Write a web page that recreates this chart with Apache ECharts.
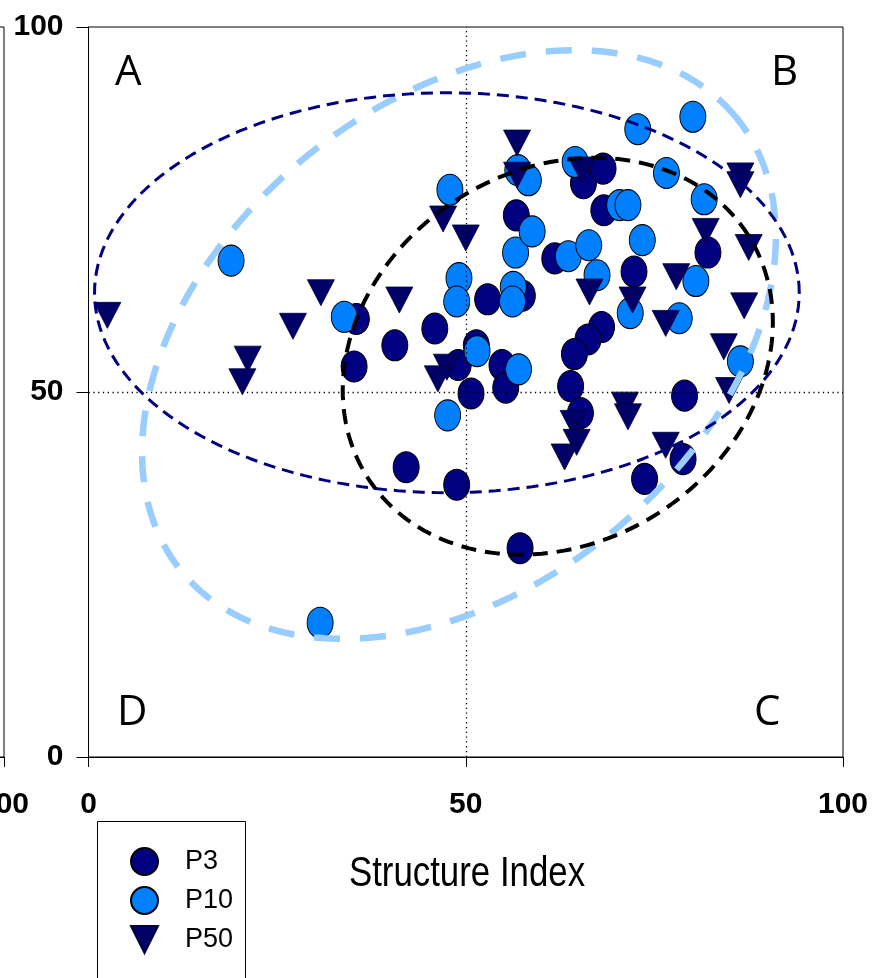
<!DOCTYPE html>
<html>
<head>
<meta charset="utf-8">
<script src="https://cdn.jsdelivr.net/npm/echarts@6/dist/echarts.min.js"></script>
<style>
html,body{margin:0;padding:0;background:#fff;}
#chart{width:876px;height:978px;}
</style>
</head>
<body>
<div id="chart"></div>
<script>
// ---- data ----
const xTicks = [0, 50, 100];
const yTicks = [0, 50, 100];
const seriesNames = ['P3', 'P10', 'P50'];
const quadrantLabels = ['A', 'B', 'C', 'D'];
const xAxisTitle = 'Structure Index';

const p3 = [
  [35.5, 60.0], [35.2, 53.5], [40.6, 56.4], [45.9, 58.7], [42.1, 39.7],
  [48.8, 37.3], [49.0, 53.7], [50.7, 49.8], [51.4, 56.4], [52.9, 62.7],
  [57.5, 63.2], [56.7, 74.2], [54.8, 53.7], [55.3, 50.6], [57.2, 28.6],
  [61.8, 68.3], [65.6, 78.6], [68.2, 80.6], [68.3, 74.9], [72.3, 66.5],
  [68.0, 58.9], [66.2, 57.2], [64.4, 55.2], [63.9, 50.8], [65.2, 47.1],
  [73.7, 38.1], [78.8, 40.8], [79.0, 49.5], [82.1, 69.1]
];
const p10 = [
  [18.9, 68.0], [33.9, 60.3], [30.7, 18.4], [47.9, 77.7], [49.1, 65.6],
  [48.8, 62.4], [51.5, 55.6], [47.6, 46.8], [57.0, 53.1], [56.3, 64.4],
  [56.2, 62.4], [56.6, 69.1], [58.8, 72.0], [56.9, 80.4], [58.3, 79.0],
  [64.5, 81.5], [63.6, 68.6], [66.3, 70.1], [67.4, 66.0], [70.4, 75.6],
  [71.5, 75.6], [73.4, 70.8], [71.8, 60.8], [72.8, 86.0], [80.1, 87.7],
  [76.6, 80.0], [81.6, 76.4], [80.5, 65.2], [78.3, 60.1], [86.4, 54.2]
];
const p50 = [
  [2.5, 60.5], [30.8, 63.6], [27.1, 59.0], [21.1, 54.5], [20.4, 51.4],
  [41.2, 62.6], [47.0, 73.7], [50.0, 71.1], [47.5, 53.4], [46.3, 51.8],
  [56.8, 84.1], [56.8, 79.7], [65.4, 80.4], [66.4, 63.7], [72.1, 62.6],
  [64.3, 45.7], [64.7, 43.1], [63.1, 41.1], [71.1, 48.2], [71.5, 46.6],
  [76.5, 42.7], [77.9, 65.8], [76.5, 59.4], [81.8, 72.0], [86.4, 79.6],
  [86.4, 78.4], [87.5, 69.8], [86.9, 61.8], [84.2, 56.2], [84.9, 50.2]
];

// confidence ellipses: centre (data), semi-axes (x-axis units), on-screen rotation (deg)
const ellipseCx = [49.1, 47.5, 62.2];
const ellipseCy = [56.5, 63.6, 54.9];
const ellipseA = [47.5, 46.7, 29.9];
const ellipseB = [32.1, 26.5, 24.7];
const ellipseAngle = [39.3, 0, 32.4];

// ---- build ----
const ellipseStyle = [
  {color: '#99CCFF', width: 6.5, type: [26, 20]},
  {color: '#000080', width: 3, type: [12, 7]},
  {color: '#000000', width: 4, type: [15, 9]}
];
const ovalPath = 'path://M50,0 A50,50 0 1,1 50,100 A50,50 0 1,1 50,0 Z';
const triPath = 'path://M0,0 L100,0 L50,100 Z';
const axisLabelStyle = {color: '#000', fontSize: 30, fontWeight: 'bold', fontFamily: 'Liberation Sans, Arial, sans-serif'};

const chart = echarts.init(document.getElementById('chart'), null, {renderer: 'canvas'});

function ellipsePoints(i, ratio) {
  const pts = [];
  const th = ellipseAngle[i] * Math.PI / 180;
  for (let d = 0; d <= 360; d += 2) {
    const t = d * Math.PI / 180;
    const u = ellipseA[i] * Math.cos(t), v = ellipseB[i] * Math.sin(t);
    pts.push([ellipseCx[i] + u * Math.cos(th) - v * Math.sin(th),
              ellipseCy[i] + (u * Math.sin(th) + v * Math.cos(th)) * ratio]);
  }
  return pts;
}

const series = [
  {
    type: 'line', name: 'ref', xAxisIndex: 0, yAxisIndex: 0, data: [], z: 1, silent: true,
    markLine: {
      silent: true, symbol: 'none', label: {show: false},
      lineStyle: {color: '#000', width: 1.3, type: [1.3, 3.5]},
      data: [{xAxis: 50}, {yAxis: 50}]
    }
  },
  {
    type: 'scatter', name: seriesNames[0], data: p3, symbol: ovalPath, symbolSize: [26, 31], z: 2,
    itemStyle: {color: '#000080', borderColor: '#000', borderWidth: 1, opacity: 1}
  },
  {
    type: 'scatter', name: seriesNames[1], data: p10, symbol: ovalPath, symbolSize: [26, 31], z: 3,
    itemStyle: {color: '#0080FF', borderColor: '#000', borderWidth: 1, opacity: 1}
  },
  {
    type: 'scatter', name: seriesNames[2], data: p50, symbol: triPath, symbolSize: [27, 26], z: 4,
    itemStyle: {color: '#000066', borderColor: '#00003a', borderWidth: 0.8, opacity: 1}
  }
];
for (let i = 0; i < 3; i++) {
  series.push({
    type: 'line', name: 'ellipse' + i, data: [], showSymbol: false, symbol: 'none',
    smooth: false, z: 5 + i, silent: true, lineStyle: ellipseStyle[i]
  });
}

const xAxisCommon = {
  type: 'value', min: xTicks[0], max: xTicks[2], interval: xTicks[1] - xTicks[0],
  axisLine: {show: true, lineStyle: {color: '#000', width: 1}},
  axisTick: {show: true, length: 10, lineStyle: {color: '#000', width: 1}},
  axisLabel: Object.assign({margin: 33}, axisLabelStyle),
  splitLine: {show: false}
};

const option = {
  animation: false,
  backgroundColor: '#ffffff',
  grid: [
    {left: 88.5, right: 33, top: 27, bottom: 221, show: true, borderColor: '#000', borderWidth: 1, outerBoundsMode: 'none', containLabel: false},
    {left: -751, right: 872, top: 27, bottom: 221, show: true, borderColor: '#000', borderWidth: 1, outerBoundsMode: 'none', containLabel: false}
  ],
  xAxis: [
    Object.assign({gridIndex: 0}, xAxisCommon),
    Object.assign({gridIndex: 1}, xAxisCommon)
  ],
  yAxis: [
    {
      gridIndex: 0, type: 'value', min: yTicks[0], max: yTicks[2], interval: yTicks[1] - yTicks[0],
      axisLine: {show: true, lineStyle: {color: '#000', width: 1}},
      axisTick: {show: true, length: 12, lineStyle: {color: '#000', width: 1}},
      axisLabel: Object.assign({margin: 25}, axisLabelStyle),
      splitLine: {show: false}
    },
    {
      gridIndex: 1, type: 'value', min: yTicks[0], max: yTicks[2], interval: yTicks[1] - yTicks[0],
      axisLine: {show: false}, axisTick: {show: false}, axisLabel: {show: false}, splitLine: {show: false}
    }
  ],
  legend: {
    data: seriesNames, orient: 'vertical', left: 130, top: 847, height: 200,
    padding: 0, itemGap: 10, itemWidth: 27, itemHeight: 31,
    textStyle: {color: '#000', fontSize: 27, fontFamily: 'Liberation Sans, Arial, sans-serif', padding: [0, 0, 0, 22]}
  },
  graphic: [
    {type: 'rect', z: 50, silent: true, shape: {x: 97.5, y: 821.5, width: 148, height: 220}, style: {fill: 'none', stroke: '#000', lineWidth: 1}},
    {type: 'text', z: 60, x: 467, y: 874, scaleX: 0.81, silent: true,
      style: {text: xAxisTitle, font: '43px "Liberation Sans", Arial, sans-serif', fill: '#000', align: 'center', verticalAlign: 'middle'}},
    {type: 'text', left: 115, top: 52, style: {text: quadrantLabels[0], font: '42px "Open Sans"', fill: '#000'}},
    {type: 'text', left: 771, top: 52, style: {text: quadrantLabels[1], font: '42px "Open Sans"', fill: '#000'}},
    {type: 'text', left: 754, top: 692, style: {text: quadrantLabels[2], font: '42px "Open Sans"', fill: '#000'}},
    {type: 'text', left: 117, top: 692, style: {text: quadrantLabels[3], font: '42px "Open Sans"', fill: '#000'}}
  ],
  series: series
};
chart.setOption(option);

// aspect ratio of the plot (px per x unit / px per y unit) so ellipses keep their on-screen shape
const o = chart.convertToPixel({gridIndex: 0}, [0, 0]);
const e = chart.convertToPixel({gridIndex: 0}, [100, 100]);
const ratio = ((e[0] - o[0]) / 100) / ((o[1] - e[1]) / 100);
const upd = series.map(function (s, idx) {
  if (idx >= 4) return {data: ellipsePoints(idx - 4, ratio)};
  return {};
});
chart.setOption({series: upd});
</script>
</body>
</html>
